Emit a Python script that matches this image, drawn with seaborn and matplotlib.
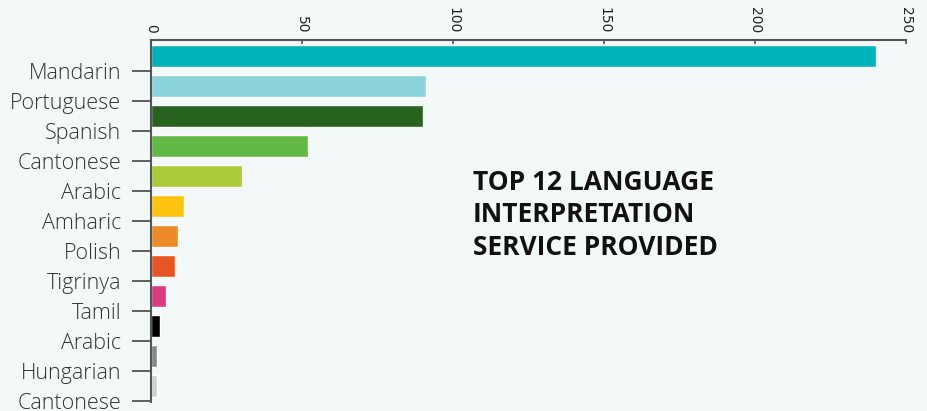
import numpy as np
import pandas as pd
import matplotlib
matplotlib.use("Agg")
import matplotlib.pyplot as plt
import seaborn as sns

languages = ["Mandarin", "Portuguese", "Spanish", "Cantonese", "Arabic", "Amharic",
             "Polish", "Tigrinya", "Tamil", "Arabic", "Hungarian", "Cantonese"]
counts = [240, 91, 90, 52, 30, 11, 9, 8, 5, 3, 2, 2]
colors = ["#00b2b9", "#8bd3db", "#27621f", "#62b946", "#a9cb37", "#fec30f",
          "#ed8a28", "#e85525", "#db3a7e", "#000000", "#888888", "#d0d0d0"]
xticks = [0, 50, 100, 150, 200, 250]
title = "TOP 12 LANGUAGE\nINTERPRETATION\nSERVICE PROVIDED"

bg = "#f3f8f8"
ids = [f"r{i}" for i in range(len(languages))]
df = pd.DataFrame({"id": ids, "count": counts, "language": languages})

sns.set_theme(style="white")
plt.rcParams["font.family"] = ["Open Sans", "DejaVu Sans"]

fig = plt.figure(figsize=(9.27, 4.11), dpi=100, facecolor=bg)
ax = fig.add_axes([151 / 927, 1 - 402 / 411, (906 - 151) / 927, (402 - 40) / 411])
ax.set_facecolor(bg)

sns.barplot(data=df, x="count", y="id", hue="id", palette=dict(zip(ids, colors)),
            orient="h", width=0.733, legend=False, saturation=1, ax=ax)

ax.set_xlim(0, 250)
ax.set_ylim(len(languages) - 0.45, -0.533)
ax.set_xlabel("")
ax.set_ylabel("")

ax.xaxis.tick_top()
ax.set_xticks(xticks)
ax.set_xticklabels([str(t) for t in xticks], rotation=-90, fontsize=10,
                   family="DejaVu Sans", color="#222222")
ax.tick_params(axis="x", direction="in", length=3, width=1.1, color="#444444", pad=5)

ax.set_yticks(np.arange(len(languages)) + 0.5)
ax.set_yticklabels(languages, fontsize=15.5, fontweight="light", color="#333333")
ax.tick_params(axis="y", direction="out", length=13.5, width=1.2, color="#444444",
               pad=8, left=True)

for s in ["right", "bottom"]:
    ax.spines[s].set_visible(False)
for s in ["top", "left"]:
    ax.spines[s].set_visible(True)
    ax.spines[s].set_color("#555555")
    ax.spines[s].set_linewidth(1.5)

fig.text(473 / 927, 1 - 169 / 411, title, ha="left", va="top", fontsize=19,
         fontweight="bold", color="#111111", linespacing=1.25, family="Open Sans")

fig.savefig("out.png", dpi=100, facecolor=bg)
